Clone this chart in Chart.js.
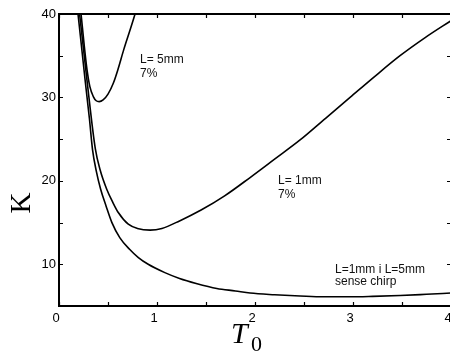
<!DOCTYPE html>
<html>
<head>
<meta charset="utf-8">
<script src="https://cdn.jsdelivr.net/npm/chart.js@4/dist/chart.umd.min.js"></script>
<style>
  html, body { margin: 0; padding: 0; background: #fff; overflow: hidden; }
  canvas { display: block; }
</style>
</head>
<body>
<canvas id="chart" width="454" height="354"></canvas>
<script>
// L = 5mm, 7%
const t5mm = [0.215, 0.225, 0.255, 0.285, 0.315, 0.35, 0.38, 0.41, 0.45, 0.50, 0.554, 0.60, 0.66, 0.72, 0.776, 0.80];
const k5mm = [41.0, 40.0, 36.5, 33.4, 31.3, 30.1, 29.6, 29.5, 29.7, 30.4, 31.7, 33.3, 35.7, 37.9, 40.0, 41.0];

// L = 1mm, 7%
const t1mm = [0.20, 0.21, 0.29, 0.37, 0.42, 0.487, 0.55, 0.605, 0.707, 0.80, 0.93, 1.05, 1.23, 1.45, 1.69, 1.95, 2.2, 2.46, 2.72, 2.97, 3.22, 3.48, 3.74, 4.0];
const k1mm = [41.2, 40.0, 31.6, 23.9, 21.3, 19.0, 17.4, 16.2, 14.8, 14.3, 14.1, 14.3, 15.2, 16.5, 18.2, 20.4, 22.6, 24.9, 27.5, 30.0, 32.5, 35.0, 37.2, 39.2];

// L=1mm i L=5mm sense chirp
const tNoChirp = [0.18, 0.194, 0.27, 0.31, 0.342, 0.38, 0.425, 0.48, 0.54, 0.62, 0.72, 0.81, 0.91, 1.08, 1.23, 1.4, 1.61, 1.8, 1.95, 2.2, 2.46, 2.7, 2.97, 3.2, 3.48, 3.75, 4.0];
const kNoChirp = [41.6, 40.0, 31.7, 27.5, 23.75, 21.2, 19.0, 17.0, 15.0, 13.2, 11.8, 10.8, 10.0, 9.0, 8.3, 7.7, 7.1, 6.8, 6.55, 6.35, 6.2, 6.1, 6.1, 6.15, 6.25, 6.4, 6.55];

// eixos
const xLabels = [0, 1, 2, 3, 4];
const yLabels = [10, 20, 30, 40];
const xMarks = [0, 0.5, 1, 1.5, 2, 2.5, 3, 3.5, 4];
const yMarks = [5, 10, 15, 20, 25, 30, 35, 40];

// etiquetes dins del gràfic (posició en unitats de dades)
const notes = [
  { lines: ['L= 5mm', '7%'], t: 0.827, k: 34.15, step: 14 },
  { lines: ['L= 1mm', '7%'], t: 2.235, k: 19.57, step: 13.5 },
  { lines: ['L=1mm i L=5mm', 'sense chirp'], t: 2.816, k: 9.0, step: 12 }
];

function toPoints(ts, ks) {
  return ts.map((t, i) => ({ x: t, y: ks[i] }));
}

function curve(ts, ks) {
  return {
    data: toPoints(ts, ks),
    borderColor: '#000',
    borderWidth: 1.6,
    pointRadius: 0,
    fill: false,
    cubicInterpolationMode: 'monotone'
  };
}

// marc, marques cap endins, títols dels eixos i etiquetes
const framePlugin = {
  id: 'frame',
  afterDraw(chart) {
    const ctx = chart.ctx;
    const a = chart.chartArea;
    const xs = chart.scales.x;
    const ys = chart.scales.y;
    ctx.save();
    ctx.strokeStyle = '#000';
    ctx.lineWidth = 2;
    ctx.strokeRect(a.left, a.top, a.right - a.left, a.bottom - a.top);

    ctx.lineWidth = 1.2;
    ctx.beginPath();
    xMarks.forEach(v => {
      const px = Math.round(xs.getPixelForValue(v)) + 0.5;
      ctx.moveTo(px, a.bottom); ctx.lineTo(px, a.bottom - 4);
      ctx.moveTo(px, a.top); ctx.lineTo(px, a.top + 4);
    });
    yMarks.forEach(v => {
      const py = Math.round(ys.getPixelForValue(v)) + 0.5;
      ctx.moveTo(a.left, py); ctx.lineTo(a.left + 4, py);
      ctx.moveTo(a.right, py); ctx.lineTo(a.right - 4, py);
    });
    ctx.stroke();

    ctx.fillStyle = '#111';
    ctx.font = '12px "Liberation Sans", Arial, sans-serif';
    ctx.textAlign = 'left';
    ctx.textBaseline = 'alphabetic';
    notes.forEach(n => {
      const px = xs.getPixelForValue(n.t);
      const py = ys.getPixelForValue(n.k);
      n.lines.forEach((s, i) => ctx.fillText(s, px, py + i * n.step));
    });

    // títol eix y
    ctx.fillStyle = '#000';
    ctx.save();
    ctx.translate(30, 203);
    ctx.rotate(-Math.PI / 2);
    ctx.textAlign = 'center';
    ctx.font = '29px "Liberation Serif", "DejaVu Serif", serif';
    ctx.fillText('K', 0, 0);
    ctx.restore();

    // títol eix x: T0
    ctx.textAlign = 'left';
    ctx.font = 'italic 30px "Liberation Serif", "DejaVu Serif", serif';
    ctx.fillText('T', 231, 343);
    ctx.font = '22px "Liberation Serif", "DejaVu Serif", serif';
    ctx.fillText('0', 251, 351);
    ctx.restore();
  }
};

const ctx = document.getElementById('chart').getContext('2d');
new Chart(ctx, {
  type: 'line',
  data: {
    datasets: [
      curve(t5mm, k5mm),
      curve(t1mm, k1mm),
      curve(tNoChirp, kNoChirp)
    ]
  },
  options: {
    responsive: false,
    animation: false,
    layout: { padding: { top: 14, right: 3, left: 0, bottom: 0 } },
    plugins: {
      legend: { display: false },
      tooltip: { enabled: false }
    },
    scales: {
      x: {
        type: 'linear',
        min: 0,
        max: 4,
        afterBuildTicks: s => { s.ticks = xLabels.map(v => ({ value: v })); },
        afterFit: s => { s.height = 48; s.paddingLeft = 0; s.paddingRight = 0; },
        ticks: {
          color: '#000',
          padding: 5,
          labelOffset: -3,
          maxRotation: 0,
          font: { family: '"Liberation Sans", Arial, sans-serif', size: 13 }
        },
        grid: { display: false, drawTicks: false },
        border: { display: false }
      },
      y: {
        min: 5,
        max: 40,
        afterBuildTicks: s => { s.ticks = yLabels.map(v => ({ value: v })); },
        afterFit: s => { s.width = 59; s.paddingTop = 0; s.paddingBottom = 0; },
        ticks: {
          color: '#000',
          padding: 3,
          font: { family: '"Liberation Sans", Arial, sans-serif', size: 13 }
        },
        grid: { display: false, drawTicks: false },
        border: { display: false }
      }
    }
  },
  plugins: [framePlugin]
});
</script>
</body>
</html>
